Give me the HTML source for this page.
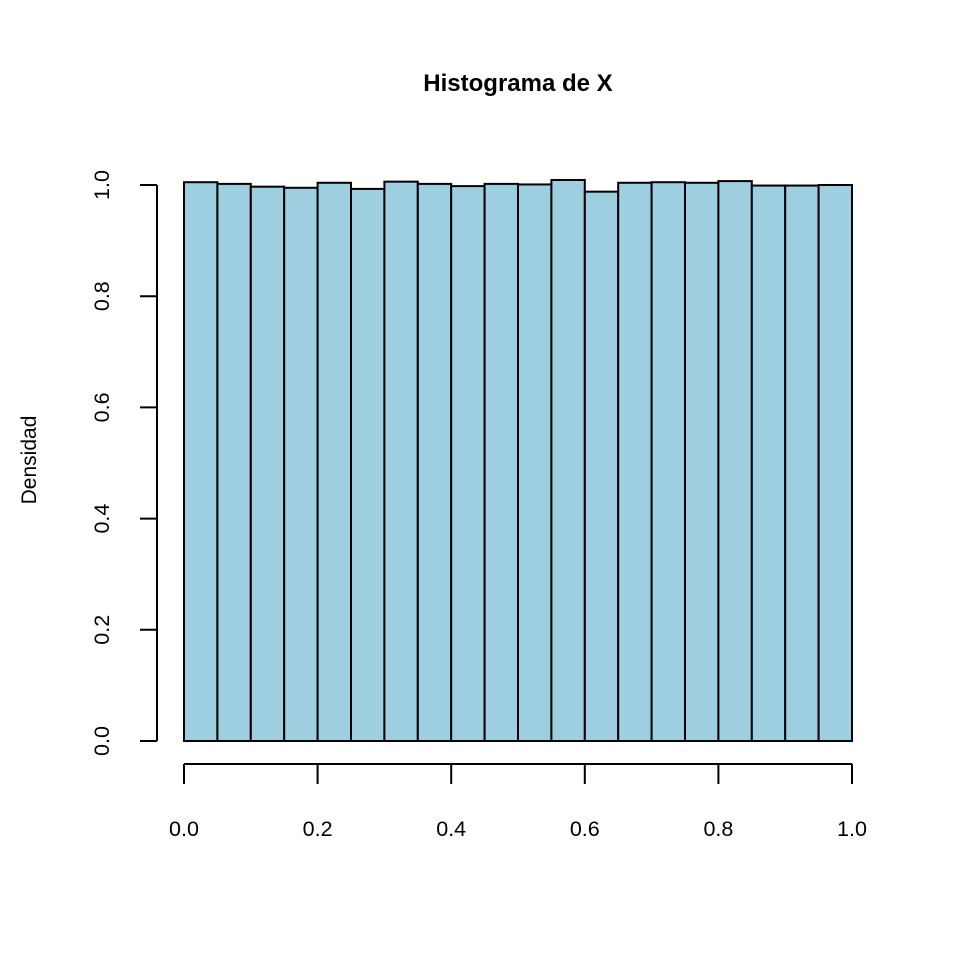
<!DOCTYPE html>
<html><head><meta charset="utf-8"><style>body{margin:0;background:#fff}svg{display:block;font-family:"Liberation Sans",Arial,sans-serif}</style></head>
<body>
<svg width="960" height="960" id="c">
<text x="518" y="91" text-anchor="middle" font-size="24" font-weight="bold">Histograma de X</text>
<text transform="translate(36,460) rotate(-90)" text-anchor="middle" font-size="21">Densidad</text>
<g id="bars"></g><g id="axes" stroke="#000" stroke-width="2" fill="none"></g><g id="labels" font-size="21.5"></g>
</svg>
<script>
const breaks=[0,0.05,0.1,0.15,0.2,0.25,0.3,0.35,0.4,0.45,0.5,0.55,0.6,0.65,0.7,0.75,0.8,0.85,0.9,0.95,1.0];
const densities=[1.005,1.002,0.997,0.995,1.004,0.993,1.006,1.002,0.998,1.002,1.001,1.009,0.988,1.004,1.005,1.004,1.007,0.999,0.999,1.000];
const xTicks=[0,0.2,0.4,0.6,0.8,1.0];
const yTicks=[0,0.2,0.4,0.6,0.8,1.0];
const xTickLabels=["0.0","0.2","0.4","0.6","0.8","1.0"];
const yTickLabels=["0.0","0.2","0.4","0.6","0.8","1.0"];
const NS="http://www.w3.org/2000/svg";
const sx=v=>184+v*668, sy=v=>741-v*556;
function mk(t,a,p){const e=document.createElementNS(NS,t);for(const k in a)e.setAttribute(k,a[k]);p.appendChild(e);return e;}
const bars=document.getElementById('bars'),axes=document.getElementById('axes'),labels=document.getElementById('labels');
densities.forEach((d,i)=>{
 const r=mk('rect',{x:sx(breaks[i]),y:sy(d),width:sx(breaks[i+1])-sx(breaks[i]),height:sy(0)-sy(d),fill:'#9ecfe0',stroke:'#000','stroke-width':2},bars);
 
 
});
const xa=mk('line',{x1:sx(0),x2:sx(1),y1:764,y2:764},axes);


const ya=mk('line',{x1:157,x2:157,y1:sy(0),y2:sy(1)},axes);


xTicks.forEach((v,i)=>{
 mk('line',{x1:sx(v),x2:sx(v),y1:764,y2:784},axes);
 const t=mk('text',{x:sx(v),y:836,'text-anchor':'middle'},labels);t.textContent=xTickLabels[i];
 
 
});
yTicks.forEach((v,i)=>{
 mk('line',{x1:157,x2:140,y1:sy(v),y2:sy(v)},axes);
 const t=mk('text',{transform:`translate(109,${sy(v)}) rotate(-90)`,'text-anchor':'middle'},labels);t.textContent=yTickLabels[i];
 
 
});
</script>
</body></html>
